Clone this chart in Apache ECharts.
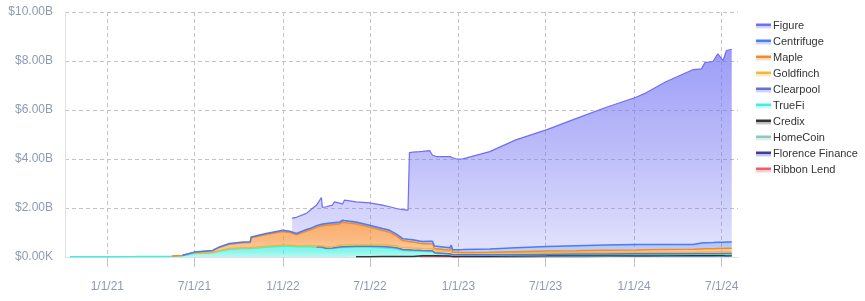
<!DOCTYPE html>
<html>
<head>
<meta charset="utf-8">
<script src="https://cdn.jsdelivr.net/npm/echarts@6/dist/echarts.min.js"></script>
<style>
html,body{margin:0;padding:0;background:#fff;}
#chart{width:865px;height:301px;}
</style>
</head>
<body>
<div id="chart"></div>
<script>
// Dates of each observation (shared by all series)
const dates = [
'2020-10-15','2020-12-01','2021-01-15','2021-03-01','2021-04-15','2021-05-15','2021-06-06','2021-07-01',
'2021-08-08','2021-08-22','2021-09-12','2021-10-10','2021-10-25','2021-10-27','2021-11-27','2022-01-01',
'2022-01-15','2022-01-20','2022-01-29','2022-02-19','2022-02-26','2022-03-12','2022-03-22','2022-03-24',
'2022-04-01','2022-04-14','2022-04-18','2022-04-29','2022-05-05','2022-05-09','2022-06-02','2022-06-30',
'2022-07-27','2022-08-11','2022-08-25','2022-09-07','2022-09-18','2022-09-21','2022-09-28','2022-10-12',
'2022-10-18','2022-11-02','2022-11-08','2022-11-12','2022-11-16','2022-12-14','2022-12-17','2022-12-20',
'2022-12-28','2023-01-10','2023-03-07','2023-04-30','2023-07-04','2023-09-02','2023-09-23','2023-11-03',
'2024-01-05','2024-01-26','2024-03-07','2024-05-03','2024-05-06','2024-05-20','2024-05-22','2024-05-27',
'2024-06-13','2024-06-23','2024-07-04','2024-07-11','2024-07-22'
];

// Values in billions of USD (null = no data)
const ribbonLend = [
null,null,null,null,null,null,null,null,null,null,null,null,null,null,null,null,
null,null,null,null,null,null,null,null,null,null,null,null,null,null,null,null,
null,null,null,null,null,null,null,0.02,0.025,0.025,0.025,0.025,0.025,0.02,0.02,0.005,
0.005,0.003,null,null,null,null,null,null,null,null,null,null,null,null,null,null,
null,null,null,null,null
];
const florenceFinance = [
null,null,null,null,null,null,null,null,null,null,null,null,null,null,null,null,
null,null,null,null,null,null,null,null,null,null,null,null,null,null,null,null,
null,null,null,null,null,null,null,null,null,null,null,null,null,null,null,null,
null,0.005,0.01,0.015,0.02,0.025,0.025,0.028,0.03,0.03,0.032,0.034,0.034,0.034,0.034,0.035,
0.035,0.036,0.036,0.037,0.037
];
const homeCoin = [
null,null,null,null,null,null,null,null,null,null,null,null,null,null,null,null,
null,null,null,null,null,null,null,null,null,null,null,null,null,null,null,null,
null,null,null,null,null,null,null,null,null,null,null,null,null,null,null,null,
null,null,0.005,0.008,0.01,0.012,0.012,0.015,0.016,0.016,0.017,0.018,0.018,0.018,0.018,0.018,
0.02,0.02,0.02,0.02,0.02
];
const credix = [
null,null,null,null,null,null,null,null,null,null,null,null,null,null,null,null,
null,null,null,null,null,null,null,null,null,null,null,null,null,null,0.01,0.015,
0.02,0.02,0.025,0.025,0.025,0.025,0.025,0.025,0.025,0.025,0.025,0.025,0.025,0.025,0.025,0.02,
0.02,0.02,0.02,0.02,0.02,0.02,0.02,0.02,0.02,0.02,0.02,0.02,0.02,0.02,0.02,0.02,
0.02,0.02,0.02,0.02,0.02
];
const trueFi = [
0.008,0.01,0.012,0.016,0.025,0.035,0.055,0.14,0.17,0.24,0.32,0.35,0.35,0.36,0.40,0.45,
0.45,0.44,0.42,0.42,0.42,0.40,0.39,0.38,0.34,0.35,0.37,0.38,0.39,0.39,0.39,0.38,
0.36,0.34,0.30,0.24,0.23,0.23,0.22,0.19,0.18,0.17,0.17,0.10,0.09,0.08,0.08,0.06,
0.06,0.055,0.05,0.05,0.05,0.045,0.045,0.042,0.04,0.04,0.038,0.038,0.038,0.038,0.038,0.038,
0.037,0.037,0.037,0.037,0.037
];
const clearpool = [
null,null,null,null,null,null,null,null,null,null,null,null,null,null,null,null,
null,null,null,null,null,0.01,0.015,0.015,0.02,0.02,0.025,0.03,0.03,0.035,0.04,0.045,
0.05,0.05,0.05,0.045,0.045,0.04,0.04,0.04,0.035,0.035,0.035,0.02,0.015,0.01,0.01,0.01,
0.01,0.01,0.01,0.012,0.015,0.018,0.02,0.02,0.022,0.024,0.026,0.028,0.028,0.03,0.03,0.03,
0.032,0.033,0.033,0.034,0.034
];
const goldfinch = [
null,null,null,null,null,null,null,0.01,0.015,0.02,0.025,0.03,0.03,0.03,0.035,0.04,
0.04,0.04,0.04,0.045,0.05,0.05,0.055,0.055,0.06,0.06,0.065,0.065,0.07,0.07,0.07,0.075,
0.08,0.08,0.08,0.08,0.08,0.08,0.08,0.08,0.08,0.085,0.085,0.085,0.085,0.085,0.085,0.08,
0.08,0.07,0.07,0.07,0.07,0.07,0.07,0.068,0.065,0.065,0.062,0.06,0.06,0.06,0.06,0.06,
0.058,0.058,0.058,0.058,0.058
];
const maple = [
null,null,null,null,null,0.002,0.01,0.04,0.07,0.13,0.18,0.20,0.21,0.395,0.485,0.55,
0.51,0.49,0.45,0.595,0.63,0.75,0.81,0.83,0.88,0.89,0.87,0.875,0.93,0.955,0.84,0.705,
0.57,0.52,0.395,0.28,0.25,0.245,0.245,0.205,0.195,0.205,0.205,0.095,0.07,0.06,0.15,0.015,
0.015,0.02,0.025,0.037,0.055,0.07,0.078,0.087,0.097,0.10,0.11,0.117,0.117,0.13,0.13,0.134,
0.138,0.146,0.146,0.152,0.152
];
const centrifuge = [
null,null,null,null,null,null,0.005,0.01,0.015,0.02,0.025,0.03,0.03,0.035,0.04,0.05,
0.05,0.05,0.05,0.06,0.06,0.07,0.07,0.07,0.07,0.08,0.08,0.08,0.08,0.08,0.08,0.08,
0.08,0.08,0.08,0.08,0.09,0.09,0.09,0.09,0.09,0.10,0.10,0.10,0.10,0.10,0.11,0.11,
0.11,0.12,0.14,0.17,0.19,0.20,0.20,0.21,0.22,0.215,0.205,0.195,0.195,0.24,0.24,0.245,
0.25,0.25,0.25,0.252,0.252
];
const figure = [
null,null,null,null,null,null,null,null,null,null,null,null,null,null,null,null,
null,0.57,0.66,0.66,0.74,0.84,1.09,0.67,0.68,0.72,0.84,0.77,0.66,0.79,0.82,0.91,
0.96,0.96,1.05,1.18,1.19,3.55,3.58,3.65,3.68,3.70,3.51,3.65,3.69,3.72,3.69,3.75,
3.70,3.70,3.97,4.40,4.77,5.19,5.33,5.61,6.01,6.19,6.64,7.14,7.15,7.11,7.11,7.35,
7.39,7.69,7.42,7.82,7.87
];

// Legend order (top to bottom) and stack order (bottom to top)
const legendNames = ['Figure','Centrifuge','Maple','Goldfinch','Clearpool','TrueFi','Credix','HomeCoin','Florence Finance','Ribbon Lend'];
const stackOrder = [
  {name:'Ribbon Lend', values: ribbonLend, color:'#f25c6a'},
  {name:'Florence Finance', values: florenceFinance, color:'#3c3ca0'},
  {name:'HomeCoin', values: homeCoin, color:'#8ec7c2'},
  {name:'Credix', values: credix, color:'#333333'},
  {name:'TrueFi', values: trueFi, color:'#3ff0de'},
  {name:'Clearpool', values: clearpool, color:'#6770d6'},
  {name:'Goldfinch', values: goldfinch, color:'#f3b73a'},
  {name:'Maple', values: maple, color:'#f7892b'},
  {name:'Centrifuge', values: centrifuge, color:'#4a7cf5'},
  {name:'Figure', values: figure, color:'#6f6ff2'}
];

// X axis range and ticks
const xRange = ['2020-10-05','2024-08-04'];
const tickDates = ['2021-01-01','2021-07-01','2022-01-01','2022-07-01','2023-01-01','2023-07-01','2024-01-01','2024-07-01'];
const tickLabels = ['1/1/21','7/1/21','1/1/22','7/1/22','1/1/23','7/1/23','1/1/24','7/1/24'];
// Y axis ticks (billions)
const yTicks = [0,2,4,6,8,10];
const yTickLabels = ['$0.00K','$2.00B','$4.00B','$6.00B','$8.00B','$10.00B'];

function toTime(d){ return echarts.time.parse(d).getTime(); }
function hexToRgba(hex, a){
  const h = hex.replace('#','');
  const r = parseInt(h.substr(0,2),16), g = parseInt(h.substr(2,2),16), b = parseInt(h.substr(4,2),16);
  return 'rgba('+r+','+g+','+b+','+a+')';
}
function areaGradient(c, top, mid, bottom){
  return new echarts.graphic.LinearGradient(0,0,0,1,[
    {offset:0, color:hexToRgba(c, top)},
    {offset:0.5, color:hexToRgba(c, mid)},
    {offset:1, color:hexToRgba(c, bottom)}
  ]);
}
function legendGradient(c){
  return new echarts.graphic.LinearGradient(0,0,0,1,[
    {offset:0, color:c},
    {offset:0.45, color:c},
    {offset:0.45, color:hexToRgba(c,0.35)},
    {offset:1, color:hexToRgba(c,0.25)}
  ]);
}

const colorOf = {};
stackOrder.forEach(s => colorOf[s.name] = s.color);
const tickTimes = tickDates.map(toTime);
const dateTimes = dates.map(toTime);

const chart = echarts.init(document.getElementById('chart'), null, {renderer:'canvas'});
const FONT = '"Liberation Sans", Arial, sans-serif';
const axisColor = '#8e9ab5';

function areaFor(s){
  if (s.name === 'Figure') return areaGradient('#7272f4', 1, 0.68, 0.3);
  if (s.name === 'Maple' || s.name === 'TrueFi') return areaGradient(s.color, 1, 0.85, 0.55);
  return areaGradient(s.color, 1, 0.7, 0.45);
}

chart.setOption({
  animation:false,
  textStyle:{fontFamily:FONT},
  grid:{left:65, right:127, top:12, bottom:44},
  legend:{
    orient:'vertical', left:756, top:20, padding:0,
    itemWidth:15, itemHeight:5, itemGap:4,
    textStyle:{fontSize:11, color:'#333', lineHeight:12, fontFamily:FONT, padding:[0,0,0,-3]},
    data: legendNames.map(n => ({name:n, icon:'rect', itemStyle:{color:legendGradient(colorOf[n])}}))
  },
  xAxis:{
    type:'value',
    min:toTime(xRange[0]), max:toTime(xRange[1]),
    axisLine:{show:true, lineStyle:{color:'#dde1ea', width:1}},
    axisTick:{show:true, length:10, customValues:tickTimes, lineStyle:{color:'#c4c4c4'}},
    axisLabel:{
      customValues:tickTimes, margin:24, fontSize:12, color:axisColor, fontFamily:FONT,
      formatter:function(v){
        for (let i=0;i<tickTimes.length;i++){ if (Math.abs(tickTimes[i]-v) < 86400000) return tickLabels[i]; }
        return '';
      }
    },
    splitLine:{show:true, lineStyle:{type:[4,3], color:'#c4c4c4', width:1}}
  },
  yAxis:{
    type:'value', min:yTicks[0], max:yTicks[yTicks.length-1], interval:yTicks[1]-yTicks[0],
    axisLine:{show:true, lineStyle:{color:'#dde1ea'}},
    axisTick:{show:false},
    axisLabel:{margin:12, fontSize:12, color:axisColor, fontFamily:FONT,
      formatter:function(v){ const i = yTicks.indexOf(v); return i>=0 ? yTickLabels[i] : ''; }},
    splitLine:{show:true, lineStyle:{type:[4,3], color:'#c4c4c4', width:1}}
  },
  series: stackOrder.map(s => ({
    name:s.name, type:'line', stack:'total', symbol:'none', showSymbol:false,
    // value first so that the value dimension (not the date) is the stacked one
    dimensions:[{name:'amount', type:'float'}, {name:'date', type:'float'}],
    encode:{x:'date', y:'amount'},
    data: dateTimes.map((t,i) => [s.values[i] === null ? '-' : s.values[i], t]),
    lineStyle:{width:s.name==='Figure'?1.2:1.5, color:s.color},
    itemStyle:{color:s.color},
    areaStyle:{color: areaFor(s)},
    emphasis:{disabled:true}
  }))
});
</script>
</body>
</html>
